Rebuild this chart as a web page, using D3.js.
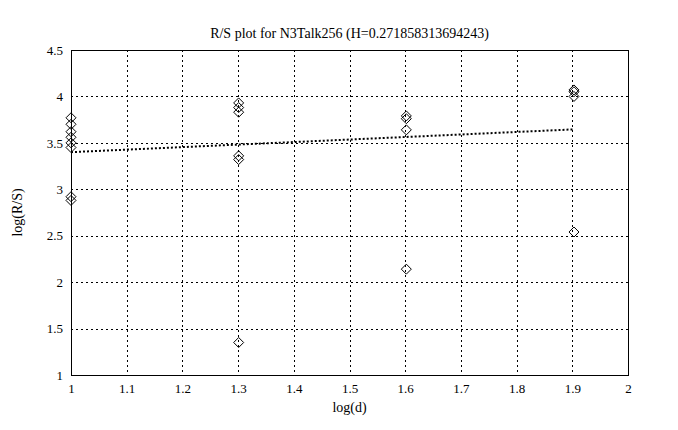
<!DOCTYPE html>
<html><head><meta charset="utf-8">
<script src="https://cdn.jsdelivr.net/npm/d3@7"></script>
<style>
body{margin:0;background:#fff;}
svg text{font-family:"Liberation Serif","DejaVu Serif",serif;fill:#000;}
</style></head>
<body><svg id="c" width="678" height="430"></svg>
<script>
const title = "R/S plot for N3Talk256 (H=0.271858313694243)";
const xLabel = "log(d)";
const yLabel = "log(R/S)";
const xTicks = [1,1.1,1.2,1.3,1.4,1.5,1.6,1.7,1.8,1.9,2];
const yTicks = [1,1.5,2,2.5,3,3.5,4,4.5];
const pointX = [1,1,1,1,1,1,1,1,
  1.301,1.301,1.301,1.301,1.301,1.301,
  1.602,1.602,1.602,1.602,
  1.903,1.903,1.903,1.903];
const pointY = [3.77,3.70,3.62,3.56,3.50,3.45,2.92,2.88,
  3.93,3.88,3.83,3.36,3.32,1.35,
  3.79,3.76,3.64,2.14,
  4.07,4.05,4.00,2.54];
const H = 0.271858313694243;
const intercept = 3.128;
const fitX = [1, 1.903];

const svg = d3.select("#c");
const L=71,T=50,R=628,B=375;
const x = d3.scaleLinear().domain([1,2]).range([L,R]);
const y = d3.scaleLinear().domain([1,4.5]).range([B,T]);

// grid
const g = svg.append("g");
g.selectAll(".gx").data(xTicks.slice(1,-1)).enter().append("line")
  .attr("x1",d=>Math.round(x(d))+0.5).attr("x2",d=>Math.round(x(d))+0.5)
  .attr("y1",T).attr("y2",B).attr("stroke","#000").attr("stroke-width",1).attr("stroke-dasharray","2,3");
g.selectAll(".gy").data(yTicks.slice(1,-1)).enter().append("line")
  .attr("y1",d=>Math.round(y(d))+0.5).attr("y2",d=>Math.round(y(d))+0.5)
  .attr("x1",L).attr("x2",R).attr("stroke","#000").attr("stroke-width",1).attr("stroke-dasharray","2,3");

// axes
const xAxis = d3.axisBottom(x).tickValues(xTicks).tickSize(0).tickPadding(9).tickFormat(d3.format("~g"));
const yAxis = d3.axisLeft(y).tickValues(yTicks).tickSize(0).tickPadding(8).tickFormat(d3.format("~g"));
svg.append("g").attr("transform",`translate(0,${B})`).call(xAxis)
  .call(a=>a.select(".domain").remove()).selectAll("text").style("font-size","13px");
svg.append("g").attr("transform",`translate(${L},0)`).call(yAxis)
  .call(a=>a.select(".domain").remove()).selectAll("text").style("font-size","13px");

// frame
svg.append("rect").attr("x",L+0.5).attr("y",T+0.5).attr("width",R-L).attr("height",B-T)
  .attr("fill","none").attr("stroke","#000").attr("stroke-width",1);

// fit line
svg.append("line").attr("x1",x(fitX[0])).attr("x2",x(fitX[1]))
  .attr("y1",y(intercept+H*fitX[0])).attr("y2",y(intercept+H*fitX[1]))
  .attr("stroke","#000").attr("stroke-width",2).attr("stroke-dasharray","2,2");

// points
const pts = pointX.map((v,i)=>({x:v,y:pointY[i]}));
svg.selectAll(".pt").data(pts).enter().append("path")
  .attr("d",d=>{const cx=x(d.x),cy=y(d.y),r=5;return `M${cx},${cy-r}L${cx+r},${cy}L${cx},${cy+r}L${cx-r},${cy}Z`;})
  .attr("fill","none").attr("stroke","#000").attr("stroke-width",1);

// labels
svg.append("text").attr("x",(L+R)/2).attr("y",38).attr("text-anchor","middle").style("font-size","14px").text(title);
svg.append("text").attr("x",(L+R)/2).attr("y",412).attr("text-anchor","middle").style("font-size","14px").text(xLabel);
svg.append("text").attr("transform",`translate(22,${(T+B)/2}) rotate(-90)`).attr("text-anchor","middle").style("font-size","14px").text(yLabel);
</script></body></html>
